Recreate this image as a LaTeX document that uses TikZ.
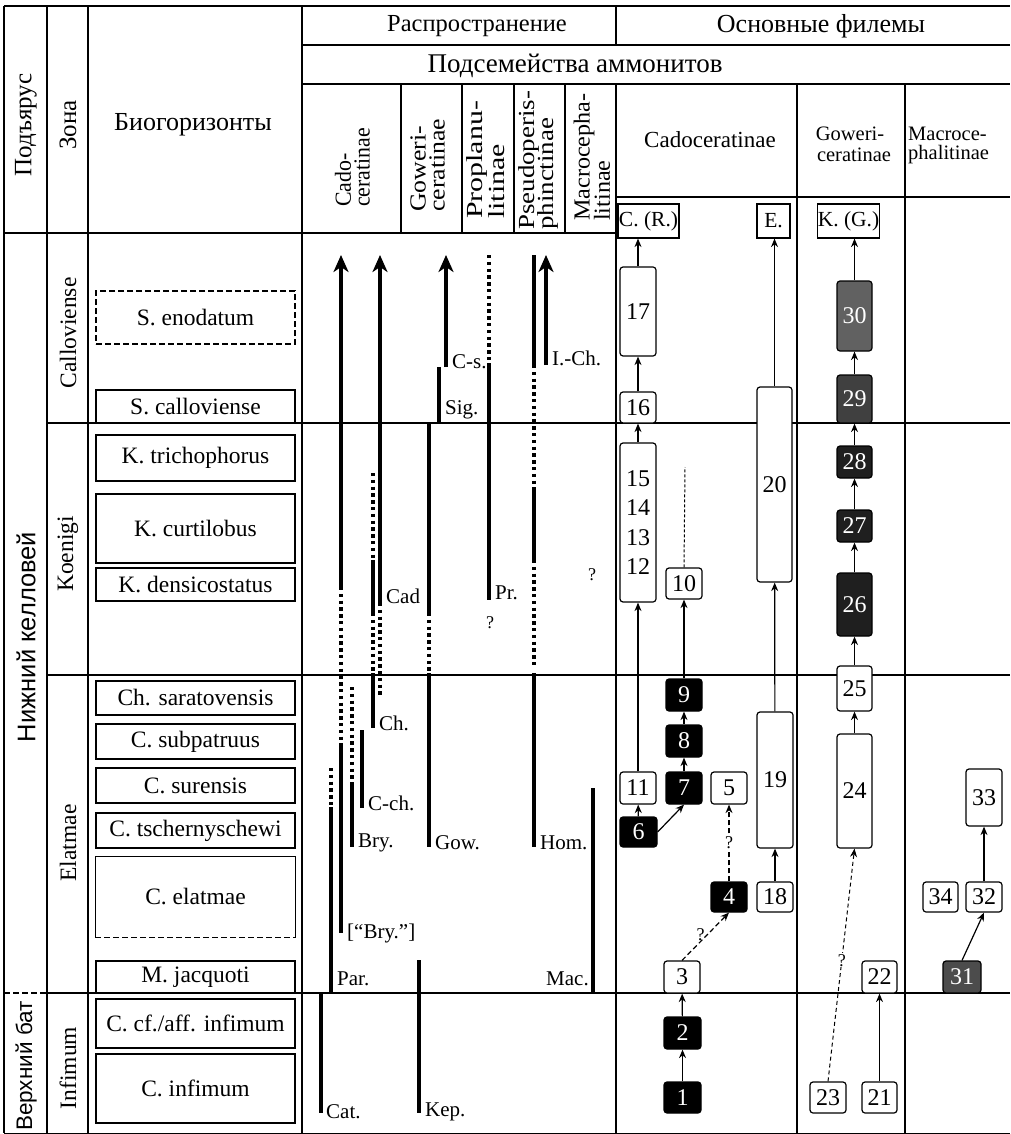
\documentclass[tikz,border=0pt]{standalone}
\usepackage{fontspec}
\usepackage{graphicx}
\setmainfont{Liberation Serif}
\newfontfamily\sansf{Liberation Sans}
\usetikzlibrary{arrows.meta}
\tikzset{
 grid/.style={line width=1.3pt},
 bio/.style={draw, line width=1.1pt, font=\fontsize{23.5}{25}\selectfont, inner sep=0pt},
 bdash/.style={dash pattern=on 6pt off 3pt},
 hd/.style={font=\fontsize{23}{25}\selectfont, inner sep=0pt},
 rt/.style={rotate=90, anchor=west, inner sep=0pt, font=\fontsize{23}{25}\selectfont},
 rc/.style={rotate=90, inner sep=0pt, font=\fontsize{23.5}{25}\selectfont},
 pbx/.style={draw, fill=white, line width=1.2pt, rounded corners=3pt, inner sep=0pt, font=\fontsize{24}{25}\selectfont},
 bbx/.style={pbx, fill=black, text=white},
 sbx/.style={draw, fill=white, line width=1.2pt, inner sep=0pt, font=\fontsize{21.5}{24}\selectfont},
 parr/.style={line width=1.2pt, -{Stealth[length=8.5pt,width=7pt]}},
 pdash/.style={parr, dash pattern=on 5pt off 3pt},
 pfine/.style={parr, line width=1pt, dash pattern=on 4pt off 3pt},
 rng/.style={line width=3.3pt},
 rngd/.style={line width=3.3pt, dash pattern=on 3.4pt off 3.4pt},
 rnga/.style={rng, -{Stealth[length=17pt,width=15pt,inset=5pt]}},
 lab/.style={font=\fontsize{21}{23}\selectfont, inner sep=0pt, anchor=west},
 qm/.style={font=\fontsize{18}{20}\selectfont, inner sep=0pt},
 ph2/.style={inner sep=0pt, font=\fontsize{20.5}{21}\selectfont},
}
\newcommand\bx[7]{%
 \pgfmathsetmacro\bxw{#5-#4}\pgfmathsetmacro\bxh{#7-#6}%
 \pgfmathsetmacro\bxx{(#4+#5)/2}\pgfmathsetmacro\bxy{(#6+#7)/2}%
 \node[#1, minimum width=\bxw pt, minimum height=\bxh pt] (#2) at (\bxx,\bxy) {#3};}
\newcommand\rtx[5]{\node[rt] (#1) at (#2,#3) {\scalebox{#4}[1]{#5}};}
\begin{document}
\begin{tikzpicture}[x=1pt,y=-1pt]
\useasboundingbox (0,0) rectangle (1010,1134);
% ---------- grid
\draw[grid] (4,6) -- (1010,6);
\draw[grid] (4,6) -- (4,1133);
\draw[grid] (47,6) -- (47,1133);
\draw[grid] (88,6) -- (88,1133);
\draw[grid] (302,6) -- (302,1133);
\draw[grid] (616,6) -- (616,45);
\draw[grid] (616,84) -- (616,1133);
\draw[grid] (797,84) -- (797,1133);
\draw[grid] (905,84) -- (905,1133);
\draw[grid] (302,45) -- (1010,45);
\draw[grid] (302,84) -- (1010,84);
\draw[grid] (616,197) -- (1010,197);
\draw[grid] (4,233) -- (616,233);
\foreach \xx in {401,462,514,565} \draw[grid] (\xx,84) -- (\xx,233);
\draw[grid] (47,423) -- (1010,423);
\draw[grid] (47,675) -- (1010,675);
\draw[grid] (47,993) -- (1010,993);
\draw[grid, bdash] (4,993) -- (47,993);
\draw[line width=0.8pt] (4,1133) -- (1010,1133);
% ---------- headers
\node[rc, font=\fontsize{25}{27}\selectfont] (hPod) at (26,125) {Подъярус};
\node[rc, font=\fontsize{25}{27}\selectfont] (hZon) at (68,125) {Зона};
\node[hd, font=\fontsize{26}{28}\selectfont] (hBio) at (193,125) {Биогоризонты};
\node[hd, font=\fontsize{24.5}{26}\selectfont] (hRas) at (477,26) {Распространение};
\node[hd, font=\fontsize{26}{28}\selectfont] (hOsn) at (821,26) {Основные филемы};
\node[hd, font=\fontsize{27}{29}\selectfont] (hSub) at (575,66) {Подсемейства аммонитов};
\rtx{sCa1}{343}{207}{0.95}{Cado-}
\rtx{sCa2}{362}{207}{0.95}{ceratinae}
\rtx{sGo1}{418}{212}{1.12}{Goweri-}
\rtx{sGo2}{437}{212}{1.12}{ceratinae}
\rtx{sPr1}{477}{219}{1.3}{Proplanu-}
\rtx{sPr2}{497}{219}{1.3}{litinae}
\rtx{sPs1}{529}{230}{1.17}{Pseudoperis-}
\rtx{sPs2}{548}{230}{1.17}{phinctinae}
\rtx{sMa1}{584}{221}{1.05}{Macrocepha-}
\rtx{sMa2}{602}{221}{1.05}{litinae}
\node[hd] (pCad) at (710,140) {Cadoceratinae};
\node[ph2] (pGow1) at (850,134) {Goweri-};
\node[ph2] (pGow2) at (854,155) {ceratinae};
\node[ph2, anchor=west] (pMac1) at (908,134) {Macroce-};
\node[ph2, anchor=west] (pMac2) at (908,155) {phalitinae};
% ---------- left column texts
\node[rc, font=\sansf\fontsize{25.5}{27}\selectfont] (tNK) at (26,637) {Нижний келловей};
\node[rc, font=\sansf\fontsize{22.5}{24}\selectfont] (tVB) at (26,1066) {Верхний бат};
\node[rc] (zCal) at (68,333) {Calloviense};
\node[rc] (zKoe) at (68,554) {Koenigi};
\node[rc] (zEla) at (68,843) {Elatmae};
\node[rc] (zInf) at (68,1068) {Infimum};
% ---------- biohorizons
\bx{bio, bdash}{bSen}{S. enodatum}{96}{295}{291}{344}
\bx{bio}{bScal}{S. calloviense}{96}{295}{390}{423}
\bx{bio}{bKtri}{K. trichophorus}{96}{295}{435}{481}
\bx{bio}{bKcur}{K. curtilobus}{96}{295}{494}{563}
\bx{bio}{bKden}{K. densicostatus}{96}{295}{568}{601}
\bx{bio}{bChs}{Ch. saratovensis}{96}{295}{681}{715}
\bx{bio}{bCsub}{C. subpatruus}{96}{295}{724}{759}
\bx{bio}{bCsur}{C. surensis}{96}{295}{768}{803}
\bx{bio}{bCtsch}{C. tschernyschewi}{96}{295}{813}{848}
\bx{bio, draw=none}{bCela}{C. elatmae}{96}{295}{857}{937}
\draw[line width=1.1pt] (bCela.south west) -- (bCela.north west) -- (bCela.north east) -- (bCela.south east);
\draw[line width=1.1pt, bdash] (bCela.south west) -- (bCela.south east);
\bx{bio}{bMjac}{M. jacquoti}{96}{295}{961}{993}
\bx{bio}{bCcf}{C. cf./aff. infimum}{96}{295}{999}{1048}
\bx{bio}{bCinf}{C. infimum}{96}{295}{1054}{1123}
% ---------- distribution ranges
% Cadoceratinae
\draw[rnga] (341,587) -- (341,255);
\draw[rngd] (341,587) -- (341,747);
\draw[rng] (341,747) -- (341,933);
\node[lab] (lBryq) at (347,933) {[“Bry.”]};
\draw[rnga] (380,603) -- (380,255);
\draw[rngd] (380,603) -- (380,697);
\node[lab] (lCad) at (386,596) {Cad};
\draw[rngd] (373,473) -- (373,560);
\draw[rng] (373,560) -- (373,613);
\draw[rngd] (373,613) -- (373,673);
\draw[rng] (373,673) -- (373,728);
\node[lab] (lCh) at (379,723) {Ch.};
\draw[rngd] (352,687) -- (352,783);
\draw[rng] (352,783) -- (352,847);
\node[lab] (lBry) at (358,843) {Bry.};
\draw[rng] (362,730) -- (362,808);
\node[lab] (lCch) at (368,803) {C-ch.};
\draw[rngd] (331,768) -- (331,807);
\draw[rng] (331,807) -- (331,993);
\node[lab] (lPar) at (337,979) {Par.};
\draw[rng] (321,993) -- (321,1113);
\node[lab] (lCat) at (326,1112) {Cat.};
% Gowericeratinae
\draw[rnga] (446,367) -- (446,255);
\node[lab] (lCs) at (452,362) {C-s.};
\draw[rng] (439,367) -- (439,423);
\node[lab] (lSig) at (445,410) {Sig.};
\draw[rng] (429,423) -- (429,613);
\draw[rngd] (429,613) -- (429,673);
\draw[rng] (429,673) -- (429,847);
\node[lab] (lGow) at (435,843) {Gow.};
\draw[rng] (419,960) -- (419,1113);
\node[lab] (lKep) at (425,1112) {Kep.};
% Proplanulitinae
\draw[rngd] (489,255) -- (489,363);
\draw[rng] (489,363) -- (489,600);
\node[lab] (lPr) at (495,593) {Pr.};
\node[qm] (qPr) at (490,623) {?};
% Pseudoperisphinctinae
\draw[rng] (534,255) -- (534,365);
\draw[rngd] (534,365) -- (534,487);
\draw[rng] (534,487) -- (534,560);
\draw[rngd] (534,560) -- (534,668);
\draw[rng] (534,673) -- (534,847);
\node[lab] (lHom) at (540,843) {Hom.};
\draw[rnga] (546,365) -- (546,255);
\node[lab] (lICh) at (552,358) {I.-Ch.};
% Macrocephalitinae
\draw[rng] (593,788) -- (593,993);
\node[lab, anchor=east] (lMac) at (589,979) {Mac.};
\node[qm] (qMa) at (592,575) {?};
% ---------- phylemes: Cadoceratinae
\bx{sbx}{nCR}{C. (R.)}{618}{679}{204}{238}
\bx{sbx}{nE}{E.}{757}{790}{204}{238}
\bx{pbx}{n17}{17}{620}{656}{267}{356}
\bx{pbx}{n16}{16}{620}{656}{392}{423}
\bx{pbx, align=center, font=\fontsize{24}{29.3}\selectfont}{n12}{15\\14\\13\\12}{620}{656}{443}{602}
\bx{pbx}{n10}{10}{666}{702}{568}{599}
\bx{pbx}{n20}{20}{757}{792}{387}{582}
\bx{pbx}{n11}{11}{620}{656}{772}{804}
\bx{bbx}{n6}{6}{620}{657}{817}{847}
\bx{bbx}{n7}{7}{666}{702}{772}{804}
\bx{bbx}{n8}{8}{666}{702}{725}{757}
\bx{bbx}{n9}{9}{666}{702}{679}{711}
\bx{pbx}{n5}{5}{711}{747}{772}{804}
\bx{bbx}{n4}{4}{711}{747}{882}{912}
\bx{pbx}{n18}{18}{757}{793}{882}{912}
\bx{pbx}{n19}{19}{757}{793}{712}{848}
\bx{pbx}{n3}{3}{664}{700}{961}{993}
\bx{bbx}{n2}{2}{664}{701}{1017}{1049}
\bx{bbx}{n1}{1}{664}{701}{1082}{1113}
\draw[parr] (n1) -- (n2);
\draw[parr] (n2) -- (n3);
\draw[pdash] (n3.north) -- node[qm, pos=0.45, above left=-2pt] (q34) {?} (n4.south);
\draw[pdash] (n4.north) -- node[qm, fill=white, inner sep=1pt] (q45) {?} (n5.south);
\draw[parr] (n6) -- (n11);
\draw[parr] (n6.east) -- (n7.south);
\draw[parr] (n7) -- (n8);
\draw[parr] (n8) -- (n9);
\draw[parr] (n9) -- (n10);
\draw[line width=1pt, dash pattern=on 3pt off 2pt] (n10.north) -- (685,467);
\draw[parr] (n11) -- (n12);
\draw[parr] (n12) -- (n16);
\draw[parr] (n16) -- (n17);
\draw[parr] (n17.north) -- (n17.north |- nCR.south);
\draw[parr] (n18) -- (n19);
\draw[parr] (n19) -- (n20);
\draw[parr] (n20.north) -- (n20.north |- nE.south);
% ---------- phylemes: Gowericeratinae
\bx{sbx}{nKG}{K. (G.)}{818}{879}{204}{238}
\bx{pbx, fill=black!62, text=white}{n30}{30}{837}{872}{281}{351}
\bx{pbx, fill=black!75, text=white}{n29}{29}{837}{872}{375}{423}
\bx{pbx, fill=black!88, text=white}{n28}{28}{837}{872}{446}{478}
\bx{pbx, fill=black!88, text=white}{n27}{27}{837}{872}{510}{542}
\bx{pbx, fill=black!88, text=white}{n26}{26}{837}{872}{573}{636}
\bx{pbx}{n25}{25}{837}{872}{666}{711}
\bx{pbx}{n24}{24}{837}{872}{734}{848}
\bx{pbx}{n23}{23}{810}{846}{1082}{1113}
\bx{pbx}{n21}{21}{862}{897}{1082}{1113}
\bx{pbx}{n22}{22}{862}{897}{961}{993}
\draw[parr] (n21) -- (n22);
\draw[pfine] (n23.north) -- node[qm, pos=0.52, fill=white, inner sep=1pt] (q2324) {?} (n24.south);
\draw[parr] (n24) -- (n25);
\draw[parr] (n25) -- (n26);
\draw[parr] (n26) -- (n27);
\draw[parr] (n27) -- (n28);
\draw[parr] (n28) -- (n29);
\draw[parr] (n29) -- (n30);
\draw[parr] (n30.north) -- (n30.north |- nKG.south);
% ---------- phylemes: Macrocephalitinae
\bx{pbx}{n33}{33}{966}{1002}{769}{826}
\bx{pbx}{n34}{34}{923}{958}{882}{912}
\bx{pbx}{n32}{32}{966}{1002}{882}{912}
\bx{pbx, fill=black!70, text=white}{n31}{31}{943}{981}{961}{993}
\draw[parr] (n32) -- (n33);
\draw[parr] (n31.north) -- (n32.south);
\end{tikzpicture}
\end{document}
